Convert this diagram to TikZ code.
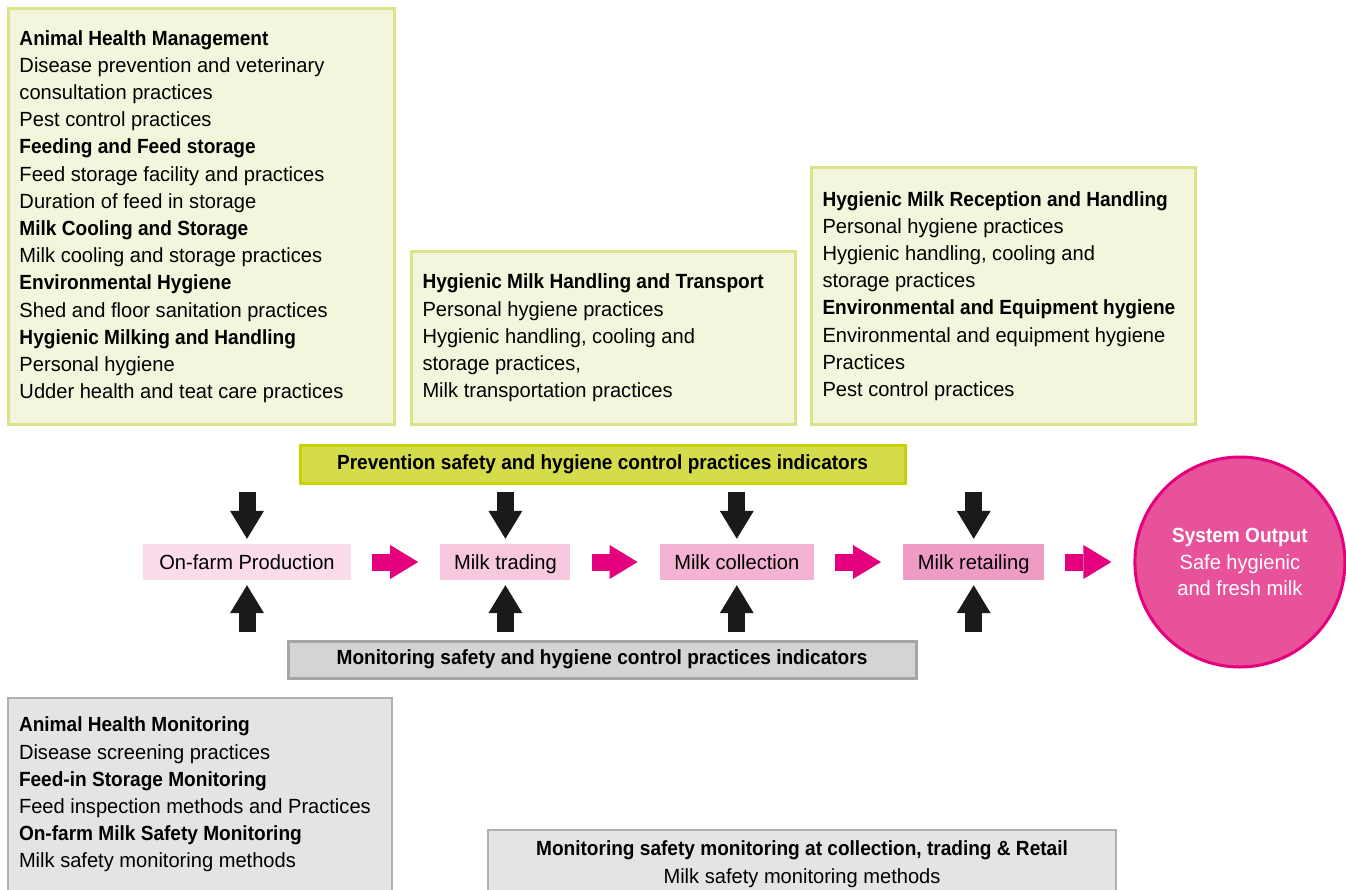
\documentclass[tikz,border=0pt]{standalone}
\usepackage{fontspec}
\setmainfont{Liberation Sans}[UprightFeatures={FakeStretch=0.98}, BoldFeatures={FakeStretch=0.93}]
\usepackage{xcolor}
\usepackage{tikz}
\usetikzlibrary{arrows.meta,positioning}
\definecolor{leaf}{HTML}{F3F6DC}
\definecolor{leafedge}{HTML}{DCE389}
\definecolor{lime}{HTML}{D4DC4C}
\definecolor{limeedge}{HTML}{C8D200}
\definecolor{ashbar}{HTML}{D4D4D4}
\definecolor{ashbaredge}{HTML}{A6A6A6}
\definecolor{ash}{HTML}{E4E4E4}
\definecolor{ashedge}{HTML}{B0B0B0}
\definecolor{blush1}{HTML}{FBDCEB}
\definecolor{blush2}{HTML}{F8C8DE}
\definecolor{blush3}{HTML}{F4B3D2}
\definecolor{blush4}{HTML}{EF9CC4}
\definecolor{fuchsia}{HTML}{E5007D}
\definecolor{outfill}{HTML}{E8529A}
\definecolor{ink}{HTML}{1A1A1A}
\newcommand{\diagfont}{\fontsize{20.5}{27.2}\selectfont\hyphenpenalty=10000}
\tikzset{
  practicebox/.style={
    rectangle, draw=leafedge, fill=leaf, line width=3pt,
    font=\diagfont, align=flush left, text width=#1-22pt,
    inner xsep=11pt, inner ysep=0pt, anchor=south west
  },
  practicebox/.default=384pt,
  checkbox/.style={
    rectangle, draw=ashedge, fill=ash, line width=2pt,
    font=\diagfont, align=flush left, text width=#1-22pt,
    inner xsep=11pt, inner ysep=19pt, anchor=north west
  },
  checkbox/.default=384pt,
  indicatorbar/.style={
    rectangle, draw=#1edge, fill=#1, line width=3pt,
    minimum height=38pt, font=\diagfont\bfseries, inner sep=0pt
  },
  stage/.style={
    rectangle, fill=#1, minimum height=36pt,
    text height=18pt, text depth=3pt,
    font=\diagfont, inner sep=0pt
  },
  outcome/.style={
    circle, draw=fuchsia, fill=outfill, line width=3pt,
    minimum size=210pt, inner sep=0pt, text=white,
    font=\fontsize{20.5}{26.5}\selectfont, align=flush center
  },
  flowarrow/.style={
    line width=17pt, color=fuchsia,
    -{Triangle[length=28pt, width=34pt, line width=0pt]},
    shorten <=21pt, shorten >=22pt
  },
  ctrlarrow/.style={
    line width=17pt, color=ink,
    -{Triangle[length=28pt, width=34pt, line width=0pt]}
  },
}

\begin{document}
\begin{tikzpicture}[x=1pt, y=-1pt, node distance=89pt]
  \useasboundingbox (0,0) rectangle (1346,889);
  \clip (0,0) rectangle (1346,889);

  % Prevention practices
  \node[practicebox=386pt, minimum height=416pt] (farm-prev) at (7,426) {%
    \textbf{Animal Health Management}\\
    Disease prevention and veterinary\\
    consultation practices\\
    Pest control practices\\
    \textbf{Feeding and Feed storage}\\
    Feed storage facility and practices\\
    Duration of feed in storage\\
    \textbf{Milk Cooling and Storage}\\
    Milk cooling and storage practices\\
    \textbf{Environmental Hygiene}\\
    Shed and floor sanitation practices\\
    \textbf{Hygienic Milking and Handling}\\
    Personal hygiene\\
    Udder health and teat care practices};
  \node[practicebox, minimum height=173pt] (trade-prev) at (410,426) {%
    \textbf{Hygienic Milk Handling and Transport}\\
    Personal hygiene practices\\
    Hygienic handling, cooling and\\
    storage practices,\\
    Milk transportation practices};
  \node[practicebox, minimum height=257pt] (retail-prev) at (810,426) {%
    \textbf{Hygienic Milk Reception and Handling}\\
    Personal hygiene practices\\
    Hygienic handling, cooling and\\
    storage practices\\
    \textbf{Environmental and Equipment hygiene}\\
    Environmental and equipment hygiene\\
    Practices\\
    Pest control practices};

  % Indicator bars
  \node[indicatorbar=lime, minimum width=605pt] (prev) at (602.5,464)
    {Prevention safety and hygiene control practices indicators};
  \node[indicatorbar=ashbar, minimum width=628pt, minimum height=37pt] (mon) at (602,659.5)
    {Monitoring safety and hygiene control practices indicators};

  % Value chain
  \node[stage=blush1, minimum width=208pt] (farm) at (247,562) {On-farm Production};
  \node[stage=blush2, minimum width=130pt, right=of farm] (trade) {Milk trading};
  \node[stage=blush3, minimum width=154pt, right=of trade] (collect) {Milk collection};
  \node[stage=blush4, minimum width=141pt, right=of collect] (retail) {Milk retailing};
  \node[outcome, right=of retail] (output) {\textbf{System Output}\\Safe hygienic\\and fresh milk};

  \draw[flowarrow] (farm) -- (trade);
  \draw[flowarrow] (trade) -- (collect);
  \draw[flowarrow] (collect) -- (retail);
  \draw[flowarrow] (retail) -- (output);

  \foreach \s in {farm,trade,collect,retail} {
    \draw[ctrlarrow, shorten <=7pt, shorten >=5pt] (prev.south -| \s.north) -- (\s.north);
    \draw[ctrlarrow, shorten <=8pt, shorten >=5pt] (mon.north -| \s.south) -- (\s.south);
  }

  % Monitoring practices
  \node[checkbox] (farm-mon) at (7,697) {%
    \textbf{Animal Health Monitoring}\\
    Disease screening practices\\
    \textbf{Feed-in Storage Monitoring}\\
    Feed inspection methods and Practices\\
    \textbf{On-farm Milk Safety Monitoring}\\
    Milk safety monitoring methods};
  \node[checkbox, anchor=north, align=flush center, text width=606pt,
        inner ysep=11pt] (chain-mon) at (802,829) {%
    \textbf{Monitoring safety monitoring at collection, trading \& Retail}\\
    Milk safety monitoring methods};
\end{tikzpicture}
\end{document}
